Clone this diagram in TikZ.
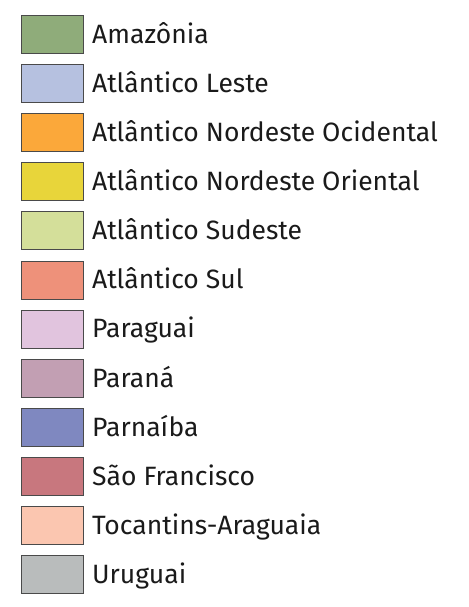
\documentclass[tikz,border=0pt]{standalone}
\usepackage{fontspec}
\setmainfont{Fira Sans}
\definecolor{cAma}{HTML}{8FAC7A}
\definecolor{cLes}{HTML}{B6C1E0}
\definecolor{cNOc}{HTML}{FBA83A}
\definecolor{cNOr}{HTML}{E8D53A}
\definecolor{cSud}{HTML}{D4DF9A}
\definecolor{cSul}{HTML}{EE917A}
\definecolor{cPgu}{HTML}{E1C4DE}
\definecolor{cPna}{HTML}{C29FB3}
\definecolor{cPba}{HTML}{7F88C0}
\definecolor{cSFr}{HTML}{C8777E}
\definecolor{cToc}{HTML}{FBC6B0}
\definecolor{cUru}{HTML}{B9BCBC}
\definecolor{edge}{HTML}{4A4A4A}
\definecolor{txt}{HTML}{1A1A1A}
\tikzset{
  swatch/.style={draw=edge, line width=1pt, minimum width=62pt, minimum height=38pt, inner sep=0pt, anchor=west},
  lbl/.style={anchor=base west, inner sep=0pt, text=txt, font=\fontsize{26.5}{30}\selectfont}
}
\begin{document}
\begin{tikzpicture}[x=1pt,y=1pt]
\useasboundingbox (0,0) rectangle (468,-607);
\foreach \i/\c/\t in {0/cAma/Amazônia,1/cLes/Atlântico Leste,2/cNOc/Atlântico Nordeste Ocidental,3/cNOr/Atlântico Nordeste Oriental,4/cSud/Atlântico Sudeste,5/cSul/Atlântico Sul,6/cPgu/Paraguai,7/cPna/Paraná,8/cPba/Parnaíba,9/cSFr/São Francisco,10/cToc/Tocantins-Araguaia,11/cUru/Uruguai}{
  \pgfmathsetmacro{\yy}{-34.5-49.1*\i}
  \node[swatch, fill=\c] (box\i) at (20.5,\yy) {};
  \node[lbl] (lab\i) at (92,\yy-8.8) {\t};
}
\end{tikzpicture}
\end{document}
